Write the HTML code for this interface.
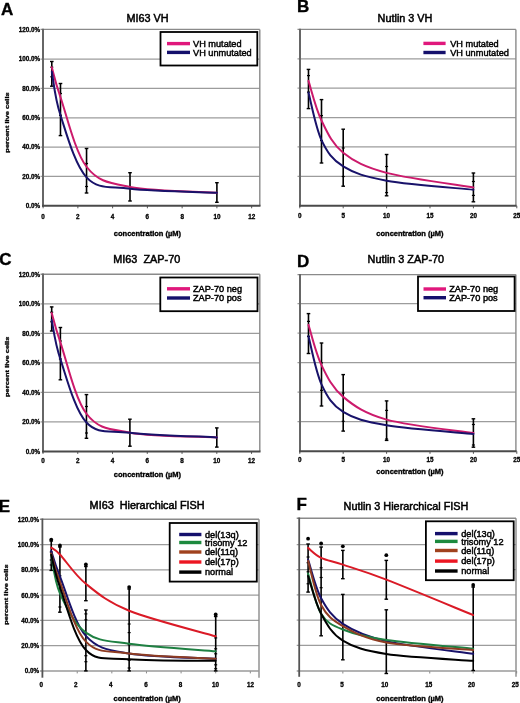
<!DOCTYPE html>
<html><head><meta charset="utf-8"><title>Figure</title>
<style>
html,body{margin:0;padding:0;background:#fff;}
body{width:520px;height:703px;overflow:hidden;}
svg{display:block;will-change:transform;font-family:"Liberation Sans", sans-serif;}
</style></head><body>
<svg width="520" height="703" viewBox="0 0 520 703">
<rect x="0" y="0" width="520" height="703" fill="#fff"/>
<line x1="40.50" y1="176.45" x2="259.80" y2="176.45" stroke="#9c9c9c" stroke-width="1.25"/>
<line x1="40.50" y1="147.10" x2="259.80" y2="147.10" stroke="#9c9c9c" stroke-width="1.25"/>
<line x1="40.50" y1="117.75" x2="259.80" y2="117.75" stroke="#9c9c9c" stroke-width="1.25"/>
<line x1="40.50" y1="88.40" x2="259.80" y2="88.40" stroke="#9c9c9c" stroke-width="1.25"/>
<line x1="40.50" y1="59.05" x2="259.80" y2="59.05" stroke="#9c9c9c" stroke-width="1.25"/>
<line x1="40.50" y1="29.40" x2="259.80" y2="29.40" stroke="#8a8a8a" stroke-width="1.4"/>
<line x1="259.80" y1="29.40" x2="259.80" y2="205.80" stroke="#8a8a8a" stroke-width="1.4"/>
<line x1="43.10" y1="205.80" x2="43.10" y2="208.30" stroke="#555" stroke-width="1"/>
<line x1="77.86" y1="205.80" x2="77.86" y2="208.30" stroke="#555" stroke-width="1"/>
<line x1="112.62" y1="205.80" x2="112.62" y2="208.30" stroke="#555" stroke-width="1"/>
<line x1="147.38" y1="205.80" x2="147.38" y2="208.30" stroke="#555" stroke-width="1"/>
<line x1="182.14" y1="205.80" x2="182.14" y2="208.30" stroke="#555" stroke-width="1"/>
<line x1="216.90" y1="205.80" x2="216.90" y2="208.30" stroke="#555" stroke-width="1"/>
<line x1="251.66" y1="205.80" x2="251.66" y2="208.30" stroke="#555" stroke-width="1"/>
<line x1="43.00" y1="28.70" x2="43.00" y2="206.80" stroke="#666" stroke-width="2"/>
<line x1="42.00" y1="205.80" x2="260.50" y2="205.80" stroke="#4a4a4a" stroke-width="2"/>
<text x="43.10" y="218.50" font-size="6.30" font-weight="bold" text-anchor="middle" fill="#000" stroke="#000" stroke-width="0.30" >0</text>
<text x="77.86" y="218.50" font-size="6.30" font-weight="bold" text-anchor="middle" fill="#000" stroke="#000" stroke-width="0.30" >2</text>
<text x="112.62" y="218.50" font-size="6.30" font-weight="bold" text-anchor="middle" fill="#000" stroke="#000" stroke-width="0.30" >4</text>
<text x="147.38" y="218.50" font-size="6.30" font-weight="bold" text-anchor="middle" fill="#000" stroke="#000" stroke-width="0.30" >6</text>
<text x="182.14" y="218.50" font-size="6.30" font-weight="bold" text-anchor="middle" fill="#000" stroke="#000" stroke-width="0.30" >8</text>
<text x="216.90" y="218.50" font-size="6.30" font-weight="bold" text-anchor="middle" fill="#000" stroke="#000" stroke-width="0.30" >10</text>
<text x="251.66" y="218.50" font-size="6.30" font-weight="bold" text-anchor="middle" fill="#000" stroke="#000" stroke-width="0.30" >12</text>
<text x="40.00" y="208.10" font-size="6.30" font-weight="bold" text-anchor="end" fill="#000" stroke="#000" stroke-width="0.30" >0.0%</text>
<text x="40.00" y="178.75" font-size="6.30" font-weight="bold" text-anchor="end" fill="#000" stroke="#000" stroke-width="0.30" >20.0%</text>
<text x="40.00" y="149.40" font-size="6.30" font-weight="bold" text-anchor="end" fill="#000" stroke="#000" stroke-width="0.30" >40.0%</text>
<text x="40.00" y="120.05" font-size="6.30" font-weight="bold" text-anchor="end" fill="#000" stroke="#000" stroke-width="0.30" >60.0%</text>
<text x="40.00" y="90.70" font-size="6.30" font-weight="bold" text-anchor="end" fill="#000" stroke="#000" stroke-width="0.30" >80.0%</text>
<text x="40.00" y="61.35" font-size="6.30" font-weight="bold" text-anchor="end" fill="#000" stroke="#000" stroke-width="0.30" >100.0%</text>
<text x="40.00" y="32.00" font-size="6.30" font-weight="bold" text-anchor="end" fill="#000" stroke="#000" stroke-width="0.30" >120.0%</text>
<text x="0.00" y="0.00" font-size="7.50" font-weight="bold" text-anchor="middle" fill="#000" stroke="#000" stroke-width="0.35" transform="translate(8.60,122.50) rotate(-90) scale(1,0.82)">percent live cells</text>
<text x="113.80" y="236.20" font-size="7.50" font-weight="bold" text-anchor="start" fill="#000" stroke="#000" stroke-width="0.35" >concentration (µM)</text>
<text x="126.50" y="21.90" font-size="10.85" font-weight="normal" text-anchor="start" fill="#000" stroke="#000" stroke-width="0.50" >MI63 VH</text>
<text x="1.00" y="14.50" font-size="17.00" font-weight="bold" text-anchor="start" fill="#000" stroke="#000" stroke-width="0.35" >A</text>
<line x1="51.79" y1="61.50" x2="51.79" y2="86.20" stroke="#000" stroke-width="1.6"/>
<line x1="49.99" y1="61.50" x2="53.59" y2="61.50" stroke="#000" stroke-width="1.4"/>
<line x1="49.99" y1="86.20" x2="53.59" y2="86.20" stroke="#000" stroke-width="1.4"/>
<line x1="50.29" y1="67.20" x2="53.29" y2="67.20" stroke="#000" stroke-width="1.2"/>
<line x1="50.29" y1="76.80" x2="53.29" y2="76.80" stroke="#000" stroke-width="1.2"/>
<line x1="60.48" y1="83.50" x2="60.48" y2="135.60" stroke="#000" stroke-width="1.6"/>
<line x1="58.68" y1="83.50" x2="62.28" y2="83.50" stroke="#000" stroke-width="1.4"/>
<line x1="58.68" y1="135.60" x2="62.28" y2="135.60" stroke="#000" stroke-width="1.4"/>
<line x1="58.98" y1="93.50" x2="61.98" y2="93.50" stroke="#000" stroke-width="1.2"/>
<line x1="58.98" y1="115.30" x2="61.98" y2="115.30" stroke="#000" stroke-width="1.2"/>
<line x1="86.55" y1="148.50" x2="86.55" y2="193.00" stroke="#000" stroke-width="1.6"/>
<line x1="84.75" y1="148.50" x2="88.35" y2="148.50" stroke="#000" stroke-width="1.4"/>
<line x1="84.75" y1="193.00" x2="88.35" y2="193.00" stroke="#000" stroke-width="1.4"/>
<line x1="85.05" y1="163.50" x2="88.05" y2="163.50" stroke="#000" stroke-width="1.2"/>
<line x1="85.05" y1="186.50" x2="88.05" y2="186.50" stroke="#000" stroke-width="1.2"/>
<line x1="130.00" y1="172.70" x2="130.00" y2="201.00" stroke="#000" stroke-width="1.6"/>
<line x1="128.20" y1="172.70" x2="131.80" y2="172.70" stroke="#000" stroke-width="1.4"/>
<line x1="128.20" y1="201.00" x2="131.80" y2="201.00" stroke="#000" stroke-width="1.4"/>
<line x1="216.90" y1="182.70" x2="216.90" y2="202.30" stroke="#000" stroke-width="1.6"/>
<line x1="215.10" y1="182.70" x2="218.70" y2="182.70" stroke="#000" stroke-width="1.4"/>
<line x1="215.10" y1="202.30" x2="218.70" y2="202.30" stroke="#000" stroke-width="1.4"/>
<path d="M51.79,67.27 C53.24,72.26 54.69,80.62 60.48,97.21 C66.27,113.79 74.96,151.80 86.55,166.76 C98.14,181.73 108.28,182.69 130.00,187.02 C151.72,191.35 202.42,191.79 216.90,192.74" fill="none" stroke="#cc1a6c" stroke-width="2" stroke-linejoin="round" stroke-linecap="round"/>
<path d="M51.79,71.67 C53.24,78.93 54.69,97.65 60.48,115.26 C66.27,132.87 74.96,165.08 86.55,177.33 C98.14,189.58 108.28,186.21 130.00,188.78 C151.72,191.35 202.42,192.08 216.90,192.74" fill="none" stroke="#18126a" stroke-width="2" stroke-linejoin="round" stroke-linecap="round"/>
<rect x="160.50" y="32.00" width="96.80" height="33.50" fill="#fff" stroke="#000" stroke-width="1.8"/>
<line x1="167.00" y1="43.60" x2="190.00" y2="43.60" stroke="#e0187c" stroke-width="3.4"/>
<text x="193.00" y="46.90" font-size="9.20" font-weight="normal" text-anchor="start" fill="#000" stroke="#000" stroke-width="0.45" >VH mutated</text>
<line x1="167.00" y1="52.40" x2="190.00" y2="52.40" stroke="#15106c" stroke-width="3.4"/>
<text x="193.00" y="55.70" font-size="9.20" font-weight="normal" text-anchor="start" fill="#000" stroke="#000" stroke-width="0.45" >VH unmutated</text>
<line x1="297.50" y1="176.25" x2="515.90" y2="176.25" stroke="#9c9c9c" stroke-width="1.25"/>
<line x1="297.50" y1="146.90" x2="515.90" y2="146.90" stroke="#9c9c9c" stroke-width="1.25"/>
<line x1="297.50" y1="117.55" x2="515.90" y2="117.55" stroke="#9c9c9c" stroke-width="1.25"/>
<line x1="297.50" y1="88.20" x2="515.90" y2="88.20" stroke="#9c9c9c" stroke-width="1.25"/>
<line x1="297.50" y1="58.85" x2="515.90" y2="58.85" stroke="#9c9c9c" stroke-width="1.25"/>
<line x1="297.50" y1="29.40" x2="515.90" y2="29.40" stroke="#8a8a8a" stroke-width="1.4"/>
<line x1="515.90" y1="29.40" x2="515.90" y2="205.80" stroke="#8a8a8a" stroke-width="1.4"/>
<line x1="299.80" y1="205.80" x2="299.80" y2="208.30" stroke="#555" stroke-width="1"/>
<line x1="343.20" y1="205.80" x2="343.20" y2="208.30" stroke="#555" stroke-width="1"/>
<line x1="386.60" y1="205.80" x2="386.60" y2="208.30" stroke="#555" stroke-width="1"/>
<line x1="430.00" y1="205.80" x2="430.00" y2="208.30" stroke="#555" stroke-width="1"/>
<line x1="473.40" y1="205.80" x2="473.40" y2="208.30" stroke="#555" stroke-width="1"/>
<line x1="516.80" y1="205.80" x2="516.80" y2="208.30" stroke="#555" stroke-width="1"/>
<line x1="300.00" y1="28.70" x2="300.00" y2="206.80" stroke="#666" stroke-width="2"/>
<line x1="299.00" y1="205.80" x2="516.60" y2="205.80" stroke="#4a4a4a" stroke-width="2"/>
<text x="299.80" y="218.30" font-size="6.30" font-weight="bold" text-anchor="middle" fill="#000" stroke="#000" stroke-width="0.30" >0</text>
<text x="343.20" y="218.30" font-size="6.30" font-weight="bold" text-anchor="middle" fill="#000" stroke="#000" stroke-width="0.30" >5</text>
<text x="386.60" y="218.30" font-size="6.30" font-weight="bold" text-anchor="middle" fill="#000" stroke="#000" stroke-width="0.30" >10</text>
<text x="430.00" y="218.30" font-size="6.30" font-weight="bold" text-anchor="middle" fill="#000" stroke="#000" stroke-width="0.30" >15</text>
<text x="473.40" y="218.30" font-size="6.30" font-weight="bold" text-anchor="middle" fill="#000" stroke="#000" stroke-width="0.30" >20</text>
<text x="516.80" y="218.30" font-size="6.30" font-weight="bold" text-anchor="middle" fill="#000" stroke="#000" stroke-width="0.30" >25</text>
<text x="376.30" y="235.80" font-size="7.50" font-weight="bold" text-anchor="start" fill="#000" stroke="#000" stroke-width="0.35" >concentration (µM)</text>
<text x="377.60" y="22.00" font-size="10.85" font-weight="normal" text-anchor="start" fill="#000" stroke="#000" stroke-width="0.50" >Nutlin 3 VH</text>
<text x="297.00" y="12.30" font-size="17.00" font-weight="bold" text-anchor="start" fill="#000" stroke="#000" stroke-width="0.35" >B</text>
<line x1="308.48" y1="69.40" x2="308.48" y2="108.60" stroke="#000" stroke-width="1.6"/>
<line x1="306.68" y1="69.40" x2="310.28" y2="69.40" stroke="#000" stroke-width="1.4"/>
<line x1="306.68" y1="108.60" x2="310.28" y2="108.60" stroke="#000" stroke-width="1.4"/>
<line x1="306.98" y1="75.60" x2="309.98" y2="75.60" stroke="#000" stroke-width="1.2"/>
<line x1="306.98" y1="92.10" x2="309.98" y2="92.10" stroke="#000" stroke-width="1.2"/>
<line x1="321.50" y1="99.60" x2="321.50" y2="163.00" stroke="#000" stroke-width="1.6"/>
<line x1="319.70" y1="99.60" x2="323.30" y2="99.60" stroke="#000" stroke-width="1.4"/>
<line x1="319.70" y1="163.00" x2="323.30" y2="163.00" stroke="#000" stroke-width="1.4"/>
<line x1="320.00" y1="115.60" x2="323.00" y2="115.60" stroke="#000" stroke-width="1.2"/>
<line x1="320.00" y1="140.60" x2="323.00" y2="140.60" stroke="#000" stroke-width="1.2"/>
<line x1="343.20" y1="129.20" x2="343.20" y2="186.20" stroke="#000" stroke-width="1.6"/>
<line x1="341.40" y1="129.20" x2="345.00" y2="129.20" stroke="#000" stroke-width="1.4"/>
<line x1="341.40" y1="186.20" x2="345.00" y2="186.20" stroke="#000" stroke-width="1.4"/>
<line x1="341.70" y1="148.00" x2="344.70" y2="148.00" stroke="#000" stroke-width="1.2"/>
<line x1="341.70" y1="176.50" x2="344.70" y2="176.50" stroke="#000" stroke-width="1.2"/>
<line x1="386.60" y1="154.50" x2="386.60" y2="195.80" stroke="#000" stroke-width="1.6"/>
<line x1="384.80" y1="154.50" x2="388.40" y2="154.50" stroke="#000" stroke-width="1.4"/>
<line x1="384.80" y1="195.80" x2="388.40" y2="195.80" stroke="#000" stroke-width="1.4"/>
<line x1="385.10" y1="166.50" x2="388.10" y2="166.50" stroke="#000" stroke-width="1.2"/>
<line x1="385.10" y1="192.60" x2="388.10" y2="192.60" stroke="#000" stroke-width="1.2"/>
<line x1="473.40" y1="173.00" x2="473.40" y2="201.80" stroke="#000" stroke-width="1.6"/>
<line x1="471.60" y1="173.00" x2="475.20" y2="173.00" stroke="#000" stroke-width="1.4"/>
<line x1="471.60" y1="201.80" x2="475.20" y2="201.80" stroke="#000" stroke-width="1.4"/>
<line x1="471.90" y1="181.50" x2="474.90" y2="181.50" stroke="#000" stroke-width="1.2"/>
<line x1="471.90" y1="195.40" x2="474.90" y2="195.40" stroke="#000" stroke-width="1.2"/>
<path d="M308.48,80.86 C310.65,87.47 315.71,108.50 321.50,120.48 C327.29,132.47 332.35,144.04 343.20,152.77 C354.05,161.50 364.90,167.10 386.60,172.87 C408.30,178.65 458.93,184.98 473.40,187.40" fill="none" stroke="#cc1a6c" stroke-width="2" stroke-linejoin="round" stroke-linecap="round"/>
<path d="M308.48,92.60 C310.65,100.53 315.71,127.85 321.50,140.15 C327.29,152.45 332.35,159.67 343.20,166.42 C354.05,173.17 364.90,176.76 386.60,180.65 C408.30,184.54 458.93,188.23 473.40,189.75" fill="none" stroke="#18126a" stroke-width="2" stroke-linejoin="round" stroke-linecap="round"/>
<line x1="423.40" y1="43.40" x2="445.60" y2="43.40" stroke="#e0187c" stroke-width="3.4"/>
<text x="450.20" y="46.70" font-size="9.20" font-weight="normal" text-anchor="start" fill="#000" stroke="#000" stroke-width="0.45" >VH mutated</text>
<line x1="423.40" y1="52.50" x2="445.60" y2="52.50" stroke="#15106c" stroke-width="3.4"/>
<text x="450.20" y="55.80" font-size="9.20" font-weight="normal" text-anchor="start" fill="#000" stroke="#000" stroke-width="0.45" >VH unmutated</text>
<line x1="40.50" y1="421.88" x2="259.80" y2="421.88" stroke="#9c9c9c" stroke-width="1.25"/>
<line x1="40.50" y1="392.36" x2="259.80" y2="392.36" stroke="#9c9c9c" stroke-width="1.25"/>
<line x1="40.50" y1="362.84" x2="259.80" y2="362.84" stroke="#9c9c9c" stroke-width="1.25"/>
<line x1="40.50" y1="333.32" x2="259.80" y2="333.32" stroke="#9c9c9c" stroke-width="1.25"/>
<line x1="40.50" y1="303.80" x2="259.80" y2="303.80" stroke="#9c9c9c" stroke-width="1.25"/>
<line x1="40.50" y1="274.30" x2="259.80" y2="274.30" stroke="#8a8a8a" stroke-width="1.4"/>
<line x1="259.80" y1="274.30" x2="259.80" y2="451.40" stroke="#8a8a8a" stroke-width="1.4"/>
<line x1="43.00" y1="451.40" x2="43.00" y2="453.90" stroke="#555" stroke-width="1"/>
<line x1="77.76" y1="451.40" x2="77.76" y2="453.90" stroke="#555" stroke-width="1"/>
<line x1="112.52" y1="451.40" x2="112.52" y2="453.90" stroke="#555" stroke-width="1"/>
<line x1="147.28" y1="451.40" x2="147.28" y2="453.90" stroke="#555" stroke-width="1"/>
<line x1="182.04" y1="451.40" x2="182.04" y2="453.90" stroke="#555" stroke-width="1"/>
<line x1="216.80" y1="451.40" x2="216.80" y2="453.90" stroke="#555" stroke-width="1"/>
<line x1="251.56" y1="451.40" x2="251.56" y2="453.90" stroke="#555" stroke-width="1"/>
<line x1="43.00" y1="273.60" x2="43.00" y2="452.40" stroke="#666" stroke-width="2"/>
<line x1="42.00" y1="451.40" x2="260.50" y2="451.40" stroke="#4a4a4a" stroke-width="2"/>
<text x="43.00" y="462.50" font-size="6.30" font-weight="bold" text-anchor="middle" fill="#000" stroke="#000" stroke-width="0.30" >0</text>
<text x="77.76" y="462.50" font-size="6.30" font-weight="bold" text-anchor="middle" fill="#000" stroke="#000" stroke-width="0.30" >2</text>
<text x="112.52" y="462.50" font-size="6.30" font-weight="bold" text-anchor="middle" fill="#000" stroke="#000" stroke-width="0.30" >4</text>
<text x="147.28" y="462.50" font-size="6.30" font-weight="bold" text-anchor="middle" fill="#000" stroke="#000" stroke-width="0.30" >6</text>
<text x="182.04" y="462.50" font-size="6.30" font-weight="bold" text-anchor="middle" fill="#000" stroke="#000" stroke-width="0.30" >8</text>
<text x="216.80" y="462.50" font-size="6.30" font-weight="bold" text-anchor="middle" fill="#000" stroke="#000" stroke-width="0.30" >10</text>
<text x="251.56" y="462.50" font-size="6.30" font-weight="bold" text-anchor="middle" fill="#000" stroke="#000" stroke-width="0.30" >12</text>
<text x="40.00" y="453.70" font-size="6.30" font-weight="bold" text-anchor="end" fill="#000" stroke="#000" stroke-width="0.30" >0.0%</text>
<text x="40.00" y="424.18" font-size="6.30" font-weight="bold" text-anchor="end" fill="#000" stroke="#000" stroke-width="0.30" >20.0%</text>
<text x="40.00" y="394.66" font-size="6.30" font-weight="bold" text-anchor="end" fill="#000" stroke="#000" stroke-width="0.30" >40.0%</text>
<text x="40.00" y="365.14" font-size="6.30" font-weight="bold" text-anchor="end" fill="#000" stroke="#000" stroke-width="0.30" >60.0%</text>
<text x="40.00" y="335.62" font-size="6.30" font-weight="bold" text-anchor="end" fill="#000" stroke="#000" stroke-width="0.30" >80.0%</text>
<text x="40.00" y="306.10" font-size="6.30" font-weight="bold" text-anchor="end" fill="#000" stroke="#000" stroke-width="0.30" >100.0%</text>
<text x="40.00" y="276.58" font-size="6.30" font-weight="bold" text-anchor="end" fill="#000" stroke="#000" stroke-width="0.30" >120.0%</text>
<text x="0.00" y="0.00" font-size="7.50" font-weight="bold" text-anchor="middle" fill="#000" stroke="#000" stroke-width="0.35" transform="translate(8.60,366.80) rotate(-90) scale(1,0.82)">percent live cells</text>
<text x="113.80" y="476.50" font-size="7.50" font-weight="bold" text-anchor="start" fill="#000" stroke="#000" stroke-width="0.35" >concentration (µM)</text>
<text x="113.30" y="263.10" font-size="10.85" font-weight="normal" text-anchor="start" fill="#000" stroke="#000" stroke-width="0.50" >MI63&#160; ZAP-70</text>
<text x="-0.75" y="264.70" font-size="17.00" font-weight="bold" text-anchor="start" fill="#000" stroke="#000" stroke-width="0.35" >C</text>
<line x1="51.69" y1="306.90" x2="51.69" y2="331.00" stroke="#000" stroke-width="1.6"/>
<line x1="49.89" y1="306.90" x2="53.49" y2="306.90" stroke="#000" stroke-width="1.4"/>
<line x1="49.89" y1="331.00" x2="53.49" y2="331.00" stroke="#000" stroke-width="1.4"/>
<line x1="50.19" y1="312.20" x2="53.19" y2="312.20" stroke="#000" stroke-width="1.2"/>
<line x1="50.19" y1="321.80" x2="53.19" y2="321.80" stroke="#000" stroke-width="1.2"/>
<line x1="60.38" y1="327.50" x2="60.38" y2="379.80" stroke="#000" stroke-width="1.6"/>
<line x1="58.58" y1="327.50" x2="62.18" y2="327.50" stroke="#000" stroke-width="1.4"/>
<line x1="58.58" y1="379.80" x2="62.18" y2="379.80" stroke="#000" stroke-width="1.4"/>
<line x1="58.88" y1="341.00" x2="61.88" y2="341.00" stroke="#000" stroke-width="1.2"/>
<line x1="58.88" y1="359.00" x2="61.88" y2="359.00" stroke="#000" stroke-width="1.2"/>
<line x1="86.45" y1="394.60" x2="86.45" y2="438.30" stroke="#000" stroke-width="1.6"/>
<line x1="84.65" y1="394.60" x2="88.25" y2="394.60" stroke="#000" stroke-width="1.4"/>
<line x1="84.65" y1="438.30" x2="88.25" y2="438.30" stroke="#000" stroke-width="1.4"/>
<line x1="84.95" y1="406.50" x2="87.95" y2="406.50" stroke="#000" stroke-width="1.2"/>
<line x1="84.95" y1="433.00" x2="87.95" y2="433.00" stroke="#000" stroke-width="1.2"/>
<line x1="129.90" y1="419.20" x2="129.90" y2="446.20" stroke="#000" stroke-width="1.6"/>
<line x1="128.10" y1="419.20" x2="131.70" y2="419.20" stroke="#000" stroke-width="1.4"/>
<line x1="128.10" y1="446.20" x2="131.70" y2="446.20" stroke="#000" stroke-width="1.4"/>
<line x1="216.80" y1="427.90" x2="216.80" y2="447.10" stroke="#000" stroke-width="1.6"/>
<line x1="215.00" y1="427.90" x2="218.60" y2="427.90" stroke="#000" stroke-width="1.4"/>
<line x1="215.00" y1="447.10" x2="218.60" y2="447.10" stroke="#000" stroke-width="1.4"/>
<path d="M51.69,312.95 C53.14,317.85 54.59,325.52 60.38,342.32 C66.17,359.13 74.86,398.71 86.45,413.76 C98.04,428.82 108.17,428.72 129.90,432.65 C151.62,436.59 202.32,436.59 216.80,437.38" fill="none" stroke="#cc1a6c" stroke-width="2" stroke-linejoin="round" stroke-linecap="round"/>
<path d="M51.69,320.04 C53.14,326.55 54.59,342.08 60.38,359.15 C66.17,376.22 74.86,410.22 86.45,422.47 C98.04,434.72 108.17,430.17 129.90,432.65 C151.62,435.14 202.32,436.59 216.80,437.38" fill="none" stroke="#18126a" stroke-width="2" stroke-linejoin="round" stroke-linecap="round"/>
<rect x="160.30" y="277.50" width="97.20" height="33.70" fill="#fff" stroke="#000" stroke-width="1.8"/>
<line x1="167.00" y1="288.80" x2="190.00" y2="288.80" stroke="#e0187c" stroke-width="3.4"/>
<text x="193.00" y="292.10" font-size="9.20" font-weight="normal" text-anchor="start" fill="#000" stroke="#000" stroke-width="0.45" >ZAP-70 neg</text>
<line x1="167.00" y1="298.00" x2="190.00" y2="298.00" stroke="#15106c" stroke-width="3.4"/>
<text x="193.00" y="301.30" font-size="9.20" font-weight="normal" text-anchor="start" fill="#000" stroke="#000" stroke-width="0.45" >ZAP-70 pos</text>
<line x1="297.50" y1="421.68" x2="515.90" y2="421.68" stroke="#9c9c9c" stroke-width="1.25"/>
<line x1="297.50" y1="392.16" x2="515.90" y2="392.16" stroke="#9c9c9c" stroke-width="1.25"/>
<line x1="297.50" y1="362.64" x2="515.90" y2="362.64" stroke="#9c9c9c" stroke-width="1.25"/>
<line x1="297.50" y1="333.12" x2="515.90" y2="333.12" stroke="#9c9c9c" stroke-width="1.25"/>
<line x1="297.50" y1="303.60" x2="515.90" y2="303.60" stroke="#9c9c9c" stroke-width="1.25"/>
<line x1="297.50" y1="274.60" x2="515.90" y2="274.60" stroke="#8a8a8a" stroke-width="1.4"/>
<line x1="515.90" y1="274.60" x2="515.90" y2="451.30" stroke="#8a8a8a" stroke-width="1.4"/>
<line x1="299.80" y1="451.30" x2="299.80" y2="453.80" stroke="#555" stroke-width="1"/>
<line x1="343.20" y1="451.30" x2="343.20" y2="453.80" stroke="#555" stroke-width="1"/>
<line x1="386.60" y1="451.30" x2="386.60" y2="453.80" stroke="#555" stroke-width="1"/>
<line x1="430.00" y1="451.30" x2="430.00" y2="453.80" stroke="#555" stroke-width="1"/>
<line x1="473.40" y1="451.30" x2="473.40" y2="453.80" stroke="#555" stroke-width="1"/>
<line x1="516.80" y1="451.30" x2="516.80" y2="453.80" stroke="#555" stroke-width="1"/>
<line x1="300.00" y1="273.90" x2="300.00" y2="452.30" stroke="#666" stroke-width="2"/>
<line x1="299.00" y1="451.30" x2="516.60" y2="451.30" stroke="#4a4a4a" stroke-width="2"/>
<text x="299.80" y="462.30" font-size="6.30" font-weight="bold" text-anchor="middle" fill="#000" stroke="#000" stroke-width="0.30" >0</text>
<text x="343.20" y="462.30" font-size="6.30" font-weight="bold" text-anchor="middle" fill="#000" stroke="#000" stroke-width="0.30" >5</text>
<text x="386.60" y="462.30" font-size="6.30" font-weight="bold" text-anchor="middle" fill="#000" stroke="#000" stroke-width="0.30" >10</text>
<text x="430.00" y="462.30" font-size="6.30" font-weight="bold" text-anchor="middle" fill="#000" stroke="#000" stroke-width="0.30" >15</text>
<text x="473.40" y="462.30" font-size="6.30" font-weight="bold" text-anchor="middle" fill="#000" stroke="#000" stroke-width="0.30" >20</text>
<text x="516.80" y="462.30" font-size="6.30" font-weight="bold" text-anchor="middle" fill="#000" stroke="#000" stroke-width="0.30" >25</text>
<text x="376.30" y="474.00" font-size="7.50" font-weight="bold" text-anchor="start" fill="#000" stroke="#000" stroke-width="0.35" >concentration (µM)</text>
<text x="367.60" y="262.80" font-size="10.85" font-weight="normal" text-anchor="start" fill="#000" stroke="#000" stroke-width="0.50" >Nutlin 3 ZAP-70</text>
<text x="297.00" y="266.70" font-size="17.00" font-weight="bold" text-anchor="start" fill="#000" stroke="#000" stroke-width="0.35" >D</text>
<line x1="308.48" y1="313.60" x2="308.48" y2="353.50" stroke="#000" stroke-width="1.6"/>
<line x1="306.68" y1="313.60" x2="310.28" y2="313.60" stroke="#000" stroke-width="1.4"/>
<line x1="306.68" y1="353.50" x2="310.28" y2="353.50" stroke="#000" stroke-width="1.4"/>
<line x1="306.98" y1="321.40" x2="309.98" y2="321.40" stroke="#000" stroke-width="1.2"/>
<line x1="306.98" y1="336.30" x2="309.98" y2="336.30" stroke="#000" stroke-width="1.2"/>
<line x1="321.50" y1="343.00" x2="321.50" y2="406.00" stroke="#000" stroke-width="1.6"/>
<line x1="319.70" y1="343.00" x2="323.30" y2="343.00" stroke="#000" stroke-width="1.4"/>
<line x1="319.70" y1="406.00" x2="323.30" y2="406.00" stroke="#000" stroke-width="1.4"/>
<line x1="320.00" y1="362.90" x2="323.00" y2="362.90" stroke="#000" stroke-width="1.2"/>
<line x1="320.00" y1="390.30" x2="323.00" y2="390.30" stroke="#000" stroke-width="1.2"/>
<line x1="343.20" y1="374.60" x2="343.20" y2="431.10" stroke="#000" stroke-width="1.6"/>
<line x1="341.40" y1="374.60" x2="345.00" y2="374.60" stroke="#000" stroke-width="1.4"/>
<line x1="341.40" y1="431.10" x2="345.00" y2="431.10" stroke="#000" stroke-width="1.4"/>
<line x1="341.70" y1="393.10" x2="344.70" y2="393.10" stroke="#000" stroke-width="1.2"/>
<line x1="341.70" y1="421.30" x2="344.70" y2="421.30" stroke="#000" stroke-width="1.2"/>
<line x1="386.60" y1="400.90" x2="386.60" y2="440.40" stroke="#000" stroke-width="1.6"/>
<line x1="384.80" y1="400.90" x2="388.40" y2="400.90" stroke="#000" stroke-width="1.4"/>
<line x1="384.80" y1="440.40" x2="388.40" y2="440.40" stroke="#000" stroke-width="1.4"/>
<line x1="385.10" y1="410.40" x2="388.10" y2="410.40" stroke="#000" stroke-width="1.2"/>
<line x1="385.10" y1="439.00" x2="388.10" y2="439.00" stroke="#000" stroke-width="1.2"/>
<line x1="473.40" y1="418.80" x2="473.40" y2="447.20" stroke="#000" stroke-width="1.6"/>
<line x1="471.60" y1="418.80" x2="475.20" y2="418.80" stroke="#000" stroke-width="1.4"/>
<line x1="471.60" y1="447.20" x2="475.20" y2="447.20" stroke="#000" stroke-width="1.4"/>
<line x1="471.90" y1="424.50" x2="474.90" y2="424.50" stroke="#000" stroke-width="1.2"/>
<line x1="471.90" y1="445.00" x2="474.90" y2="445.00" stroke="#000" stroke-width="1.2"/>
<path d="M308.48,324.85 C310.65,331.57 315.71,353.14 321.50,365.15 C327.29,377.15 332.35,387.81 343.20,396.88 C354.05,405.96 364.90,413.59 386.60,419.61 C408.30,425.64 458.93,430.81 473.40,433.05" fill="none" stroke="#cc1a6c" stroke-width="2" stroke-linejoin="round" stroke-linecap="round"/>
<path d="M308.48,336.22 C310.65,344.24 315.71,371.72 321.50,384.34 C327.29,396.96 332.35,405.12 343.20,411.94 C354.05,418.75 364.90,421.56 386.60,425.22 C408.30,428.89 458.93,432.48 473.40,433.93" fill="none" stroke="#18126a" stroke-width="2" stroke-linejoin="round" stroke-linecap="round"/>
<rect x="418.00" y="276.50" width="96.60" height="34.50" fill="#fff" stroke="#000" stroke-width="1.8"/>
<line x1="423.50" y1="289.00" x2="446.00" y2="289.00" stroke="#e0187c" stroke-width="3.4"/>
<text x="449.20" y="292.30" font-size="9.20" font-weight="normal" text-anchor="start" fill="#000" stroke="#000" stroke-width="0.45" >ZAP-70 neg</text>
<line x1="423.50" y1="297.70" x2="446.00" y2="297.70" stroke="#15106c" stroke-width="3.4"/>
<text x="449.20" y="301.00" font-size="9.20" font-weight="normal" text-anchor="start" fill="#000" stroke="#000" stroke-width="0.45" >ZAP-70 pos</text>
<line x1="39.90" y1="645.67" x2="259.00" y2="645.67" stroke="#9c9c9c" stroke-width="1.25"/>
<line x1="39.90" y1="620.43" x2="259.00" y2="620.43" stroke="#9c9c9c" stroke-width="1.25"/>
<line x1="39.90" y1="595.20" x2="259.00" y2="595.20" stroke="#9c9c9c" stroke-width="1.25"/>
<line x1="39.90" y1="569.96" x2="259.00" y2="569.96" stroke="#9c9c9c" stroke-width="1.25"/>
<line x1="39.90" y1="544.73" x2="259.00" y2="544.73" stroke="#9c9c9c" stroke-width="1.25"/>
<line x1="39.90" y1="519.20" x2="259.00" y2="519.20" stroke="#8a8a8a" stroke-width="1.4"/>
<line x1="259.00" y1="519.20" x2="259.00" y2="677.70" stroke="#8a8a8a" stroke-width="1.4"/>
<line x1="42.60" y1="670.90" x2="42.60" y2="673.40" stroke="#888" stroke-width="1"/>
<line x1="77.22" y1="670.90" x2="77.22" y2="673.40" stroke="#888" stroke-width="1"/>
<line x1="111.84" y1="670.90" x2="111.84" y2="673.40" stroke="#888" stroke-width="1"/>
<line x1="146.46" y1="670.90" x2="146.46" y2="673.40" stroke="#888" stroke-width="1"/>
<line x1="181.08" y1="670.90" x2="181.08" y2="673.40" stroke="#888" stroke-width="1"/>
<line x1="215.70" y1="670.90" x2="215.70" y2="673.40" stroke="#888" stroke-width="1"/>
<line x1="250.32" y1="670.90" x2="250.32" y2="673.40" stroke="#888" stroke-width="1"/>
<line x1="39.90" y1="670.90" x2="259.00" y2="670.90" stroke="#9a9a9a" stroke-width="1.5"/>
<line x1="42.40" y1="518.50" x2="42.40" y2="677.70" stroke="#555" stroke-width="1.8"/>
<text x="41.30" y="687.30" font-size="6.30" font-weight="bold" text-anchor="middle" fill="#000" stroke="#000" stroke-width="0.30" >0</text>
<text x="75.80" y="687.30" font-size="6.30" font-weight="bold" text-anchor="middle" fill="#000" stroke="#000" stroke-width="0.30" >2</text>
<text x="110.80" y="687.30" font-size="6.30" font-weight="bold" text-anchor="middle" fill="#000" stroke="#000" stroke-width="0.30" >4</text>
<text x="146.00" y="687.30" font-size="6.30" font-weight="bold" text-anchor="middle" fill="#000" stroke="#000" stroke-width="0.30" >6</text>
<text x="180.50" y="687.30" font-size="6.30" font-weight="bold" text-anchor="middle" fill="#000" stroke="#000" stroke-width="0.30" >8</text>
<text x="215.50" y="687.30" font-size="6.30" font-weight="bold" text-anchor="middle" fill="#000" stroke="#000" stroke-width="0.30" >10</text>
<text x="250.50" y="687.30" font-size="6.30" font-weight="bold" text-anchor="middle" fill="#000" stroke="#000" stroke-width="0.30" >12</text>
<text x="39.00" y="673.20" font-size="6.30" font-weight="bold" text-anchor="end" fill="#000" stroke="#000" stroke-width="0.30" >0.0%</text>
<text x="39.00" y="647.97" font-size="6.30" font-weight="bold" text-anchor="end" fill="#000" stroke="#000" stroke-width="0.30" >20.0%</text>
<text x="39.00" y="622.73" font-size="6.30" font-weight="bold" text-anchor="end" fill="#000" stroke="#000" stroke-width="0.30" >40.0%</text>
<text x="39.00" y="597.50" font-size="6.30" font-weight="bold" text-anchor="end" fill="#000" stroke="#000" stroke-width="0.30" >60.0%</text>
<text x="39.00" y="572.26" font-size="6.30" font-weight="bold" text-anchor="end" fill="#000" stroke="#000" stroke-width="0.30" >80.0%</text>
<text x="39.00" y="547.03" font-size="6.30" font-weight="bold" text-anchor="end" fill="#000" stroke="#000" stroke-width="0.30" >100.0%</text>
<text x="39.00" y="521.80" font-size="6.30" font-weight="bold" text-anchor="end" fill="#000" stroke="#000" stroke-width="0.30" >120.0%</text>
<text x="0.00" y="0.00" font-size="7.50" font-weight="bold" text-anchor="middle" fill="#000" stroke="#000" stroke-width="0.35" transform="translate(8.00,594.60) rotate(-90) scale(1,0.82)">percent live cells</text>
<text x="113.50" y="701.00" font-size="7.50" font-weight="bold" text-anchor="start" fill="#000" stroke="#000" stroke-width="0.35" >concentration (µM)</text>
<text x="89.60" y="509.20" font-size="10.85" font-weight="normal" text-anchor="start" fill="#000" stroke="#000" stroke-width="0.50" >MI63&#160; Hierarchical FISH</text>
<text x="-1.20" y="512.40" font-size="17.00" font-weight="bold" text-anchor="start" fill="#000" stroke="#000" stroke-width="0.35" >E</text>
<line x1="51.26" y1="541.00" x2="51.26" y2="570.40" stroke="#000" stroke-width="1.6"/>
<line x1="49.46" y1="541.00" x2="53.05" y2="541.00" stroke="#000" stroke-width="1.4"/>
<line x1="49.46" y1="570.40" x2="53.05" y2="570.40" stroke="#000" stroke-width="1.4"/>
<line x1="49.76" y1="552.00" x2="52.76" y2="552.00" stroke="#000" stroke-width="1.2"/>
<line x1="49.76" y1="560.00" x2="52.76" y2="560.00" stroke="#000" stroke-width="1.2"/>
<line x1="49.76" y1="565.00" x2="52.76" y2="565.00" stroke="#000" stroke-width="1.2"/>
<circle cx="51.26" cy="539.60" r="1.9" fill="#000"/>
<line x1="59.91" y1="547.00" x2="59.91" y2="612.20" stroke="#000" stroke-width="1.6"/>
<line x1="58.11" y1="547.00" x2="61.71" y2="547.00" stroke="#000" stroke-width="1.4"/>
<line x1="58.11" y1="612.20" x2="61.71" y2="612.20" stroke="#000" stroke-width="1.4"/>
<line x1="58.41" y1="575.80" x2="61.41" y2="575.80" stroke="#000" stroke-width="1.2"/>
<line x1="58.41" y1="607.00" x2="61.41" y2="607.00" stroke="#000" stroke-width="1.2"/>
<circle cx="59.91" cy="545.40" r="1.9" fill="#000"/>
<line x1="85.88" y1="566.50" x2="85.88" y2="600.70" stroke="#000" stroke-width="1.6"/>
<line x1="84.08" y1="566.50" x2="87.67" y2="566.50" stroke="#000" stroke-width="1.4"/>
<line x1="84.08" y1="600.70" x2="87.67" y2="600.70" stroke="#000" stroke-width="1.4"/>
<line x1="85.88" y1="610.00" x2="85.88" y2="670.90" stroke="#000" stroke-width="1.6"/>
<line x1="84.08" y1="610.00" x2="87.67" y2="610.00" stroke="#000" stroke-width="1.4"/>
<line x1="84.08" y1="670.90" x2="87.67" y2="670.90" stroke="#000" stroke-width="1.4"/>
<line x1="84.38" y1="613.90" x2="87.38" y2="613.90" stroke="#000" stroke-width="1.2"/>
<line x1="84.38" y1="619.80" x2="87.38" y2="619.80" stroke="#000" stroke-width="1.2"/>
<line x1="84.38" y1="655.70" x2="87.38" y2="655.70" stroke="#000" stroke-width="1.2"/>
<line x1="84.38" y1="661.70" x2="87.38" y2="661.70" stroke="#000" stroke-width="1.2"/>
<circle cx="85.88" cy="564.40" r="1.9" fill="#000"/>
<line x1="129.15" y1="589.00" x2="129.15" y2="670.90" stroke="#000" stroke-width="1.6"/>
<line x1="127.35" y1="589.00" x2="130.95" y2="589.00" stroke="#000" stroke-width="1.4"/>
<line x1="127.35" y1="670.90" x2="130.95" y2="670.90" stroke="#000" stroke-width="1.4"/>
<line x1="127.65" y1="624.00" x2="130.65" y2="624.00" stroke="#000" stroke-width="1.2"/>
<line x1="127.65" y1="632.60" x2="130.65" y2="632.60" stroke="#000" stroke-width="1.2"/>
<line x1="127.65" y1="644.70" x2="130.65" y2="644.70" stroke="#000" stroke-width="1.2"/>
<line x1="127.65" y1="660.30" x2="130.65" y2="660.30" stroke="#000" stroke-width="1.2"/>
<line x1="127.65" y1="668.00" x2="130.65" y2="668.00" stroke="#000" stroke-width="1.2"/>
<circle cx="129.15" cy="587.10" r="1.9" fill="#000"/>
<line x1="215.70" y1="616.50" x2="215.70" y2="670.90" stroke="#000" stroke-width="1.6"/>
<line x1="213.90" y1="616.50" x2="217.50" y2="616.50" stroke="#000" stroke-width="1.4"/>
<line x1="213.90" y1="670.90" x2="217.50" y2="670.90" stroke="#000" stroke-width="1.4"/>
<line x1="214.20" y1="637.90" x2="217.20" y2="637.90" stroke="#000" stroke-width="1.2"/>
<line x1="214.20" y1="648.80" x2="217.20" y2="648.80" stroke="#000" stroke-width="1.2"/>
<line x1="214.20" y1="653.80" x2="217.20" y2="653.80" stroke="#000" stroke-width="1.2"/>
<line x1="214.20" y1="664.80" x2="217.20" y2="664.80" stroke="#000" stroke-width="1.2"/>
<line x1="214.20" y1="668.70" x2="217.20" y2="668.70" stroke="#000" stroke-width="1.2"/>
<circle cx="215.70" cy="614.50" r="1.9" fill="#000"/>
<path d="M51.26,551.04 C52.70,555.24 54.14,562.12 59.91,576.27 C65.68,590.42 74.33,623.08 85.88,635.95 C97.42,648.82 107.51,649.68 129.15,653.49 C150.79,657.29 201.27,657.90 215.70,658.79" fill="none" stroke="#18126a" stroke-width="2" stroke-linejoin="round" stroke-linecap="round"/>
<path d="M51.26,554.82 C52.70,561.24 54.14,580.33 59.91,593.31 C65.68,606.28 74.33,624.26 85.88,632.67 C97.42,641.08 107.51,640.68 129.15,643.77 C150.79,646.86 201.27,649.98 215.70,651.22" fill="none" stroke="#1e8042" stroke-width="2" stroke-linejoin="round" stroke-linecap="round"/>
<path d="M51.26,553.56 C52.70,558.29 54.14,567.27 59.91,581.95 C65.68,596.63 74.33,629.71 85.88,641.63 C97.42,653.55 107.51,650.63 129.15,653.49 C150.79,656.35 201.27,657.90 215.70,658.79" fill="none" stroke="#8e3c22" stroke-width="2" stroke-linejoin="round" stroke-linecap="round"/>
<path d="M51.26,547.63 C52.70,548.77 54.14,548.41 59.91,554.45 C65.68,560.48 74.33,574.46 85.88,583.84 C97.42,593.22 107.51,601.97 129.15,610.72 C150.79,619.46 201.27,632.06 215.70,636.33" fill="none" stroke="#da1a26" stroke-width="2" stroke-linejoin="round" stroke-linecap="round"/>
<path d="M51.26,554.82 C52.70,560.19 54.14,571.14 59.91,587.00 C65.68,602.85 74.33,637.93 85.88,649.96 C97.42,661.98 107.51,657.36 129.15,659.17 C150.79,660.97 201.27,660.53 215.70,660.81" fill="none" stroke="#000000" stroke-width="2" stroke-linejoin="round" stroke-linecap="round"/>
<rect x="169.70" y="523.00" width="87.10" height="58.60" fill="#fff" stroke="#000" stroke-width="1.8"/>
<line x1="179.20" y1="534.50" x2="201.40" y2="534.50" stroke="#15106c" stroke-width="3.4"/>
<text x="205.00" y="537.80" font-size="9.20" font-weight="normal" text-anchor="start" fill="#000" stroke="#000" stroke-width="0.45" >del(13q)</text>
<line x1="179.20" y1="542.50" x2="201.40" y2="542.50" stroke="#1c8a3e" stroke-width="3.4"/>
<text x="205.00" y="545.80" font-size="9.20" font-weight="normal" text-anchor="start" fill="#000" stroke="#000" stroke-width="0.45" >trisomy 12</text>
<line x1="179.20" y1="552.00" x2="201.40" y2="552.00" stroke="#a0421e" stroke-width="3.4"/>
<text x="205.00" y="555.30" font-size="9.20" font-weight="normal" text-anchor="start" fill="#000" stroke="#000" stroke-width="0.45" >del(11q)</text>
<line x1="179.20" y1="562.00" x2="201.40" y2="562.00" stroke="#ec1622" stroke-width="3.4"/>
<text x="205.00" y="565.30" font-size="9.20" font-weight="normal" text-anchor="start" fill="#000" stroke="#000" stroke-width="0.45" >del(17p)</text>
<line x1="179.20" y1="572.10" x2="201.40" y2="572.10" stroke="#000000" stroke-width="3.4"/>
<text x="205.00" y="575.40" font-size="9.20" font-weight="normal" text-anchor="start" fill="#000" stroke="#000" stroke-width="0.45" >normal</text>
<line x1="296.70" y1="645.30" x2="516.00" y2="645.30" stroke="#9c9c9c" stroke-width="1.25"/>
<line x1="296.70" y1="620.10" x2="516.00" y2="620.10" stroke="#9c9c9c" stroke-width="1.25"/>
<line x1="296.70" y1="594.90" x2="516.00" y2="594.90" stroke="#9c9c9c" stroke-width="1.25"/>
<line x1="296.70" y1="569.70" x2="516.00" y2="569.70" stroke="#9c9c9c" stroke-width="1.25"/>
<line x1="296.70" y1="544.50" x2="516.00" y2="544.50" stroke="#9c9c9c" stroke-width="1.25"/>
<line x1="296.70" y1="518.20" x2="516.00" y2="518.20" stroke="#8a8a8a" stroke-width="1.4"/>
<line x1="516.00" y1="518.20" x2="516.00" y2="676.80" stroke="#8a8a8a" stroke-width="1.4"/>
<line x1="299.40" y1="671.00" x2="299.40" y2="673.50" stroke="#888" stroke-width="1"/>
<line x1="342.85" y1="671.00" x2="342.85" y2="673.50" stroke="#888" stroke-width="1"/>
<line x1="386.30" y1="671.00" x2="386.30" y2="673.50" stroke="#888" stroke-width="1"/>
<line x1="429.75" y1="671.00" x2="429.75" y2="673.50" stroke="#888" stroke-width="1"/>
<line x1="473.20" y1="671.00" x2="473.20" y2="673.50" stroke="#888" stroke-width="1"/>
<line x1="516.65" y1="671.00" x2="516.65" y2="673.50" stroke="#888" stroke-width="1"/>
<line x1="296.70" y1="671.00" x2="516.00" y2="671.00" stroke="#9a9a9a" stroke-width="1.5"/>
<line x1="299.20" y1="517.50" x2="299.20" y2="676.80" stroke="#555" stroke-width="1.8"/>
<text x="298.90" y="686.80" font-size="6.30" font-weight="bold" text-anchor="middle" fill="#000" stroke="#000" stroke-width="0.30" >0</text>
<text x="342.00" y="686.80" font-size="6.30" font-weight="bold" text-anchor="middle" fill="#000" stroke="#000" stroke-width="0.30" >5</text>
<text x="384.80" y="686.80" font-size="6.30" font-weight="bold" text-anchor="middle" fill="#000" stroke="#000" stroke-width="0.30" >10</text>
<text x="428.70" y="686.80" font-size="6.30" font-weight="bold" text-anchor="middle" fill="#000" stroke="#000" stroke-width="0.30" >15</text>
<text x="471.50" y="686.80" font-size="6.30" font-weight="bold" text-anchor="middle" fill="#000" stroke="#000" stroke-width="0.30" >20</text>
<text x="515.20" y="686.80" font-size="6.30" font-weight="bold" text-anchor="middle" fill="#000" stroke="#000" stroke-width="0.30" >25</text>
<text x="376.30" y="700.50" font-size="7.50" font-weight="bold" text-anchor="start" fill="#000" stroke="#000" stroke-width="0.35" >concentration (µM)</text>
<text x="343.60" y="510.00" font-size="10.85" font-weight="normal" text-anchor="start" fill="#000" stroke="#000" stroke-width="0.50" >Nutlin 3 Hierarchical FISH</text>
<text x="296.60" y="510.40" font-size="17.00" font-weight="bold" text-anchor="start" fill="#000" stroke="#000" stroke-width="0.35" >F</text>
<line x1="308.09" y1="544.00" x2="308.09" y2="592.10" stroke="#000" stroke-width="1.6"/>
<line x1="306.29" y1="544.00" x2="309.89" y2="544.00" stroke="#000" stroke-width="1.4"/>
<line x1="306.29" y1="592.10" x2="309.89" y2="592.10" stroke="#000" stroke-width="1.4"/>
<line x1="306.59" y1="557.00" x2="309.59" y2="557.00" stroke="#000" stroke-width="1.2"/>
<line x1="306.59" y1="562.70" x2="309.59" y2="562.70" stroke="#000" stroke-width="1.2"/>
<line x1="306.59" y1="571.80" x2="309.59" y2="571.80" stroke="#000" stroke-width="1.2"/>
<line x1="306.59" y1="583.75" x2="309.59" y2="583.75" stroke="#000" stroke-width="1.2"/>
<circle cx="308.09" cy="538.70" r="1.9" fill="#000"/>
<line x1="321.12" y1="547.00" x2="321.12" y2="635.80" stroke="#000" stroke-width="1.6"/>
<line x1="319.32" y1="547.00" x2="322.93" y2="547.00" stroke="#000" stroke-width="1.4"/>
<line x1="319.32" y1="635.80" x2="322.93" y2="635.80" stroke="#000" stroke-width="1.4"/>
<line x1="319.62" y1="567.80" x2="322.62" y2="567.80" stroke="#000" stroke-width="1.2"/>
<line x1="319.62" y1="577.50" x2="322.62" y2="577.50" stroke="#000" stroke-width="1.2"/>
<line x1="319.62" y1="587.70" x2="322.62" y2="587.70" stroke="#000" stroke-width="1.2"/>
<circle cx="321.12" cy="543.50" r="1.9" fill="#000"/>
<line x1="342.85" y1="550.40" x2="342.85" y2="578.70" stroke="#000" stroke-width="1.6"/>
<line x1="341.05" y1="550.40" x2="344.65" y2="550.40" stroke="#000" stroke-width="1.4"/>
<line x1="341.05" y1="578.70" x2="344.65" y2="578.70" stroke="#000" stroke-width="1.4"/>
<line x1="342.85" y1="594.40" x2="342.85" y2="659.80" stroke="#000" stroke-width="1.6"/>
<line x1="341.05" y1="594.40" x2="344.65" y2="594.40" stroke="#000" stroke-width="1.4"/>
<line x1="341.05" y1="659.80" x2="344.65" y2="659.80" stroke="#000" stroke-width="1.4"/>
<circle cx="342.85" cy="546.30" r="1.9" fill="#000"/>
<line x1="386.30" y1="560.40" x2="386.30" y2="599.20" stroke="#000" stroke-width="1.6"/>
<line x1="384.50" y1="560.40" x2="388.10" y2="560.40" stroke="#000" stroke-width="1.4"/>
<line x1="384.50" y1="599.20" x2="388.10" y2="599.20" stroke="#000" stroke-width="1.4"/>
<line x1="386.30" y1="609.80" x2="386.30" y2="673.50" stroke="#000" stroke-width="1.6"/>
<line x1="384.50" y1="609.80" x2="388.10" y2="609.80" stroke="#000" stroke-width="1.4"/>
<line x1="384.50" y1="673.50" x2="388.10" y2="673.50" stroke="#000" stroke-width="1.4"/>
<circle cx="386.30" cy="555.20" r="1.9" fill="#000"/>
<line x1="473.20" y1="587.00" x2="473.20" y2="670.50" stroke="#000" stroke-width="1.6"/>
<line x1="471.40" y1="587.00" x2="475.00" y2="587.00" stroke="#000" stroke-width="1.4"/>
<line x1="471.40" y1="670.50" x2="475.00" y2="670.50" stroke="#000" stroke-width="1.4"/>
<circle cx="473.20" cy="585.00" r="1.9" fill="#000"/>
<path d="M308.09,559.62 C310.26,566.07 315.33,587.59 321.12,598.30 C326.92,609.01 331.99,616.74 342.85,623.88 C353.71,631.02 364.57,636.17 386.30,641.14 C408.02,646.12 458.72,651.64 473.20,653.74" fill="none" stroke="#18126a" stroke-width="2" stroke-linejoin="round" stroke-linecap="round"/>
<path d="M308.09,573.48 C310.26,580.20 315.33,604.45 321.12,613.80 C326.92,623.14 331.99,625.18 342.85,629.55 C353.71,633.92 364.57,636.82 386.30,640.01 C408.02,643.20 458.72,647.25 473.20,648.70" fill="none" stroke="#1e8042" stroke-width="2" stroke-linejoin="round" stroke-linecap="round"/>
<path d="M308.09,560.88 C310.26,568.23 315.33,594.10 321.12,604.98 C326.92,615.86 331.99,619.89 342.85,626.15 C353.71,632.41 364.57,638.56 386.30,642.53 C408.02,646.50 458.72,648.72 473.20,649.96" fill="none" stroke="#8e3c22" stroke-width="2" stroke-linejoin="round" stroke-linecap="round"/>
<path d="M308.09,547.90 C310.26,549.56 315.33,555.06 321.12,557.86 C326.92,560.65 331.99,561.03 342.85,564.66 C353.71,568.29 364.57,571.25 386.30,579.65 C408.02,588.05 458.72,609.16 473.20,615.06" fill="none" stroke="#da1a26" stroke-width="2" stroke-linejoin="round" stroke-linecap="round"/>
<path d="M308.09,576.00 C310.26,582.30 315.33,603.03 321.12,613.80 C326.92,624.57 331.99,633.94 342.85,640.64 C353.71,647.34 364.57,650.63 386.30,653.99 C408.02,657.35 458.72,659.66 473.20,660.80" fill="none" stroke="#000000" stroke-width="2" stroke-linejoin="round" stroke-linecap="round"/>
<rect x="425.90" y="521.30" width="87.80" height="58.90" fill="#fff" stroke="#000" stroke-width="1.8"/>
<line x1="435.00" y1="533.60" x2="457.60" y2="533.60" stroke="#15106c" stroke-width="3.4"/>
<text x="461.20" y="536.90" font-size="9.20" font-weight="normal" text-anchor="start" fill="#000" stroke="#000" stroke-width="0.45" >del(13q)</text>
<line x1="435.00" y1="541.40" x2="457.60" y2="541.40" stroke="#1c8a3e" stroke-width="3.4"/>
<text x="461.20" y="544.70" font-size="9.20" font-weight="normal" text-anchor="start" fill="#000" stroke="#000" stroke-width="0.45" >trisomy 12</text>
<line x1="435.00" y1="550.50" x2="457.60" y2="550.50" stroke="#a0421e" stroke-width="3.4"/>
<text x="461.20" y="553.80" font-size="9.20" font-weight="normal" text-anchor="start" fill="#000" stroke="#000" stroke-width="0.45" >del(11q)</text>
<line x1="435.00" y1="561.10" x2="457.60" y2="561.10" stroke="#ec1622" stroke-width="3.4"/>
<text x="461.20" y="564.40" font-size="9.20" font-weight="normal" text-anchor="start" fill="#000" stroke="#000" stroke-width="0.45" >del(17p)</text>
<line x1="435.00" y1="571.00" x2="457.60" y2="571.00" stroke="#000000" stroke-width="3.4"/>
<text x="461.20" y="574.30" font-size="9.20" font-weight="normal" text-anchor="start" fill="#000" stroke="#000" stroke-width="0.45" >normal</text>
</svg>
</body></html>
